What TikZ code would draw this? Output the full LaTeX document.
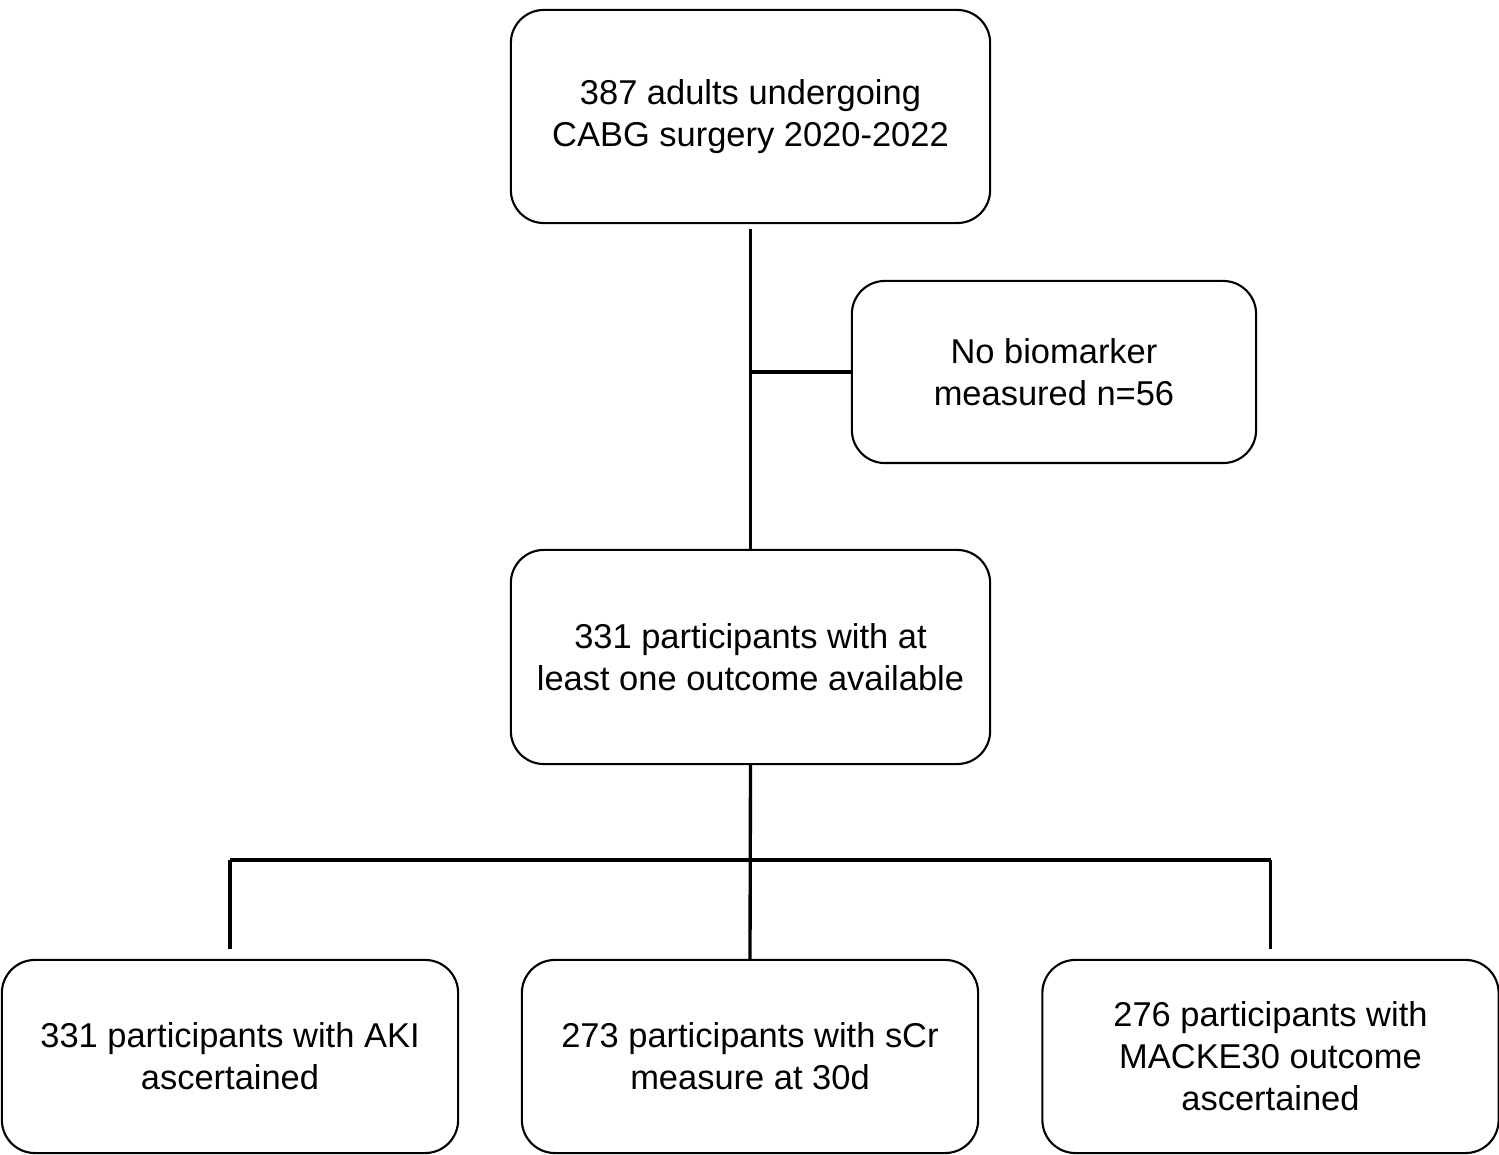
\documentclass[tikz,border=0pt]{standalone}
\usepackage{fontspec}
\setmainfont{Liberation Sans}
\usepackage{tikz}

\begin{document}
\begin{tikzpicture}[x=0.01cm,y=-0.01cm,
  box/.style={draw,line width=0.6pt,rounded corners=0.33cm,align=center,inner sep=0pt,
    font=\fontsize{9.8pt}{11.9pt}\selectfont},
  conn/.style={line width=0.95pt}]
\useasboundingbox (0,0) rectangle (1499,1155);
\node[box,minimum width=4.79cm,minimum height=2.13cm] (cohort) at (750.5,116.5) {387 adults undergoing\\CABG surgery 2020-2022};
\node[box,minimum width=4.04cm,minimum height=1.82cm] (nobio) at (1054,372) {No biomarker\\measured n=56};
\node[box,minimum width=4.79cm,minimum height=2.14cm] (outcome) at (750.5,657) {331 participants with at\\least one outcome available};
\node[box,minimum width=4.56cm,minimum height=1.93cm] (aki) at (230,1056.5) {331 participants with AKI\\ascertained};
\node[box,minimum width=4.56cm,minimum height=1.93cm] (scr) at (750,1056.5) {273 participants with sCr\\measure at 30d};
\node[box,minimum width=4.56cm,minimum height=1.93cm] (macke) at (1270.5,1056.5) {276 participants with\\MACKE30 outcome\\ascertained};
\coordinate (split) at (750,860);
\draw[conn,shorten <=0.05cm] (cohort.south) -- (outcome.north);
\draw[conn] (cohort.south |- nobio.west) -- (nobio.west);
\draw[conn] (outcome.south) -- (scr.north);
\draw[conn] (split -| aki.north) -- (split -| macke.north);
\draw[conn,shorten >=0.1cm] (split -| aki.north) -- (aki.north);
\draw[conn,shorten >=0.1cm] (split -| macke.north) -- (macke.north);
\end{tikzpicture}
\end{document}
